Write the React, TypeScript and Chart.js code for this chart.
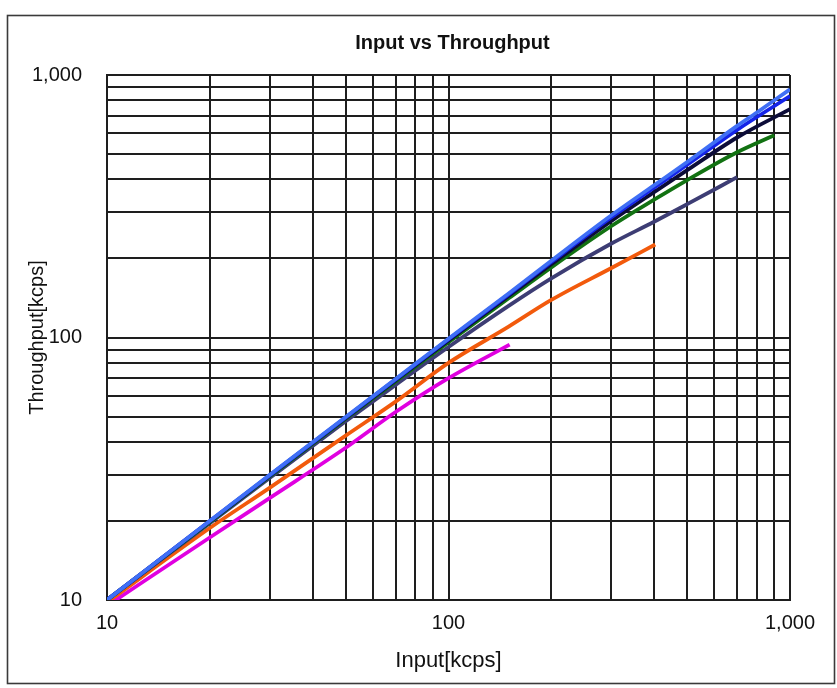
import React, { useEffect, useRef } from "react";
import { Chart, registerables } from "chart.js";

Chart.register(...registerables);

const TITLE = "Input vs Throughput";
const X_TITLE = "Input[kcps]";
const Y_TITLE = "Throughput[kcps]";

const GRID_TICKS = [
  10, 20, 30, 40, 50, 60, 70, 80, 90,
  100, 200, 300, 400, 500, 600, 700, 800, 900, 1000,
];
const MAJOR_TICKS = [10, 100, 1000];

// series (input kcps -> throughput kcps)
const lightBlueX = [10, 20, 30, 50, 70, 100, 150, 200, 300, 400, 500, 700, 800, 1000];
const lightBlueY = [10, 20, 30, 49.8, 69.5, 99, 147, 196, 292, 380, 466, 640, 720, 882];

const blueX = [10, 20, 30, 50, 70, 100, 150, 200, 300, 400, 500, 700, 1000];
const blueY = [10, 20, 29.9, 49.6, 69.2, 98.5, 146, 194, 287, 372, 455, 618, 831];

const navyX = [10, 20, 30, 50, 70, 100, 150, 200, 300, 400, 500, 700, 1000];
const navyY = [10, 19.9, 29.8, 49.4, 68.8, 97.5, 144, 190, 278, 358, 434, 578, 741];

const greenX = [10, 20, 30, 50, 70, 100, 150, 200, 300, 400, 500, 700, 900];
const greenY = [10, 19.8, 29.6, 49, 68, 96, 141, 185, 266, 335, 398, 508, 590];

const slateX = [10, 20, 30, 50, 70, 100, 150, 200, 300, 400, 500, 700];
const slateY = [10, 19.6, 29.2, 48, 66, 92, 132, 168, 228, 276, 322, 408];

const orangeX = [10, 20, 30, 50, 70, 100, 150, 200, 300, 403];
const orangeY = [9.8, 18.8, 26.8, 42.3, 57, 80, 110, 139, 184, 226];

const magentaX = [10, 20, 30, 50, 70, 100, 151];
const magentaY = [9.5, 17.3, 24.5, 38, 52, 70, 94];

const SERIES = [
  { name: "S1", xs: lightBlueX, ys: lightBlueY, color: "#3f6ff5" },
  { name: "S2", xs: blueX, ys: blueY, color: "#1424e8" },
  { name: "S3", xs: navyX, ys: navyY, color: "#0c0c38" },
  { name: "S4", xs: greenX, ys: greenY, color: "#127212" },
  { name: "S5", xs: slateX, ys: slateY, color: "#3d3d74" },
  { name: "S6", xs: orangeX, ys: orangeY, color: "#f25a0c" },
  { name: "S7", xs: magentaX, ys: magentaY, color: "#e000e0" },
];

const FONT = "'Liberation Sans', Arial, sans-serif";
const TEXT_COLOR = "#111";

const fmt = (v: number) => v.toLocaleString("en-US");

export default function App() {
  const ref = useRef<HTMLCanvasElement | null>(null);

  useEffect(() => {
    document.body.style.margin = "0";
    const canvas = ref.current;
    if (!canvas) return;

    const framePlugin = {
      id: "frameAndTitle",
      afterDraw(chart: any) {
        const ctx = chart.ctx;
        const area = chart.chartArea;
        ctx.save();
        ctx.strokeStyle = "#3a3a3a";
        ctx.lineWidth = 1.6;
        ctx.strokeRect(7.5, 15.5, 827, 668);
        ctx.fillStyle = TEXT_COLOR;
        ctx.font = `bold 20px ${FONT}`;
        ctx.textAlign = "center";
        ctx.textBaseline = "middle";
        ctx.fillText(TITLE, (area.left + area.right) / 2 + 4, 43);
        ctx.restore();
      },
    };

    const gridOpts = {
      color: "#1e1e1e",
      lineWidth: 2,
      drawTicks: false,
    };

    const chart = new Chart(canvas, {
      type: "line",
      data: {
        datasets: SERIES.map((s) => ({
          label: s.name,
          data: s.xs.map((x, i) => ({ x, y: s.ys[i] })),
          borderColor: s.color,
          backgroundColor: s.color,
          borderWidth: 3.8,
          pointRadius: 0,
          cubicInterpolationMode: "monotone",
          fill: false,
        })),
      },
      options: {
        animation: false,
        responsive: false,
        maintainAspectRatio: false,
        devicePixelRatio: 1,
        layout: { padding: { left: 0, right: 47, top: 75, bottom: 0 } },
        plugins: {
          legend: { display: false },
          tooltip: { enabled: false },
          title: { display: false },
        },
        scales: {
          x: {
            type: "logarithmic",
            min: 10,
            max: 1000,
            afterBuildTicks: (scale: any) => {
              scale.ticks = GRID_TICKS.map((v) => ({ value: v }));
            },
            afterFit: (scale: any) => {
              scale.height = 88;
            },
            ticks: {
              autoSkip: false,
              maxRotation: 0,
              padding: 11,
              color: TEXT_COLOR,
              font: { family: FONT, size: 20, lineHeight: 1.2 },
              callback: (v: any) => (MAJOR_TICKS.includes(Number(v)) ? fmt(Number(v)) : ""),
            },
            grid: gridOpts,
            border: { color: "#1e1e1e", width: 2 },
            title: {
              display: true,
              text: X_TITLE,
              color: TEXT_COLOR,
              font: { family: FONT, size: 22, lineHeight: 1.2 },
              padding: { top: 0, bottom: 14 },
            },
          },
          y: {
            type: "logarithmic",
            min: 10,
            max: 1000,
            afterBuildTicks: (scale: any) => {
              scale.ticks = GRID_TICKS.map((v) => ({ value: v }));
            },
            afterFit: (scale: any) => {
              scale.width = 107;
            },
            ticks: {
              autoSkip: false,
              padding: 25,
              color: TEXT_COLOR,
              font: { family: FONT, size: 20, lineHeight: 1.2 },
              callback: (v: any) => (MAJOR_TICKS.includes(Number(v)) ? fmt(Number(v)) : ""),
            },
            grid: gridOpts,
            border: { color: "#1e1e1e", width: 2 },
            title: {
              display: true,
              text: Y_TITLE,
              color: TEXT_COLOR,
              font: { family: FONT, size: 20, lineHeight: 1.2 },
              padding: { top: 25, bottom: 0 },
            },
          },
        },
      },
      plugins: [framePlugin],
    } as any);

    return () => chart.destroy();
  }, []);

  return (
    <div style={{ width: 837, height: 688, background: "#fff" }}>
      <canvas ref={ref} width={837} height={688} style={{ display: "block" }} />
    </div>
  );
}
